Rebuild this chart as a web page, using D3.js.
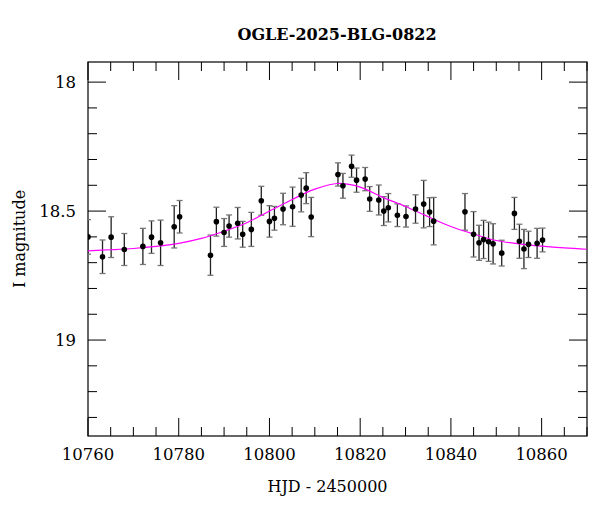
<!DOCTYPE html>
<html>
<head>
<meta charset="utf-8">
<script src="https://cdn.jsdelivr.net/npm/d3@7"></script>
<style>
  body { margin: 0; background: #fff; }
  text { font-family: "DejaVu Serif", serif; fill: #000; }
</style>
</head>
<body>
<script>
// photometry (HJD - 2450000, I mag, error)
const hjd = [10760.0, 10763.2, 10765.1, 10768.0, 10772.1, 10774.0, 10776.0, 10779.0, 10780.2, 10787.0,
  10788.3, 10790.0, 10791.1, 10793.0, 10794.1, 10796.0, 10798.2, 10800.0, 10801.1, 10803.0,
  10805.1, 10807.0, 10808.1, 10809.2, 10815.1, 10816.2, 10818.1, 10819.2, 10821.1, 10822.1,
  10824.1, 10825.2, 10826.2, 10828.2, 10830.1, 10832.2, 10834.0, 10835.3, 10836.2, 10843.1,
  10845.0, 10846.2, 10847.2, 10848.3, 10849.3, 10851.2, 10854.0, 10855.1, 10856.1, 10857.1,
  10859.0, 10860.2];
const mag = [18.600, 18.677, 18.601, 18.649, 18.637, 18.601, 18.623, 18.561, 18.522, 18.671,
  18.541, 18.583, 18.558, 18.547, 18.590, 18.571, 18.460, 18.540, 18.528, 18.492,
  18.483, 18.438, 18.411, 18.523, 18.358, 18.402, 18.326, 18.380, 18.376, 18.453,
  18.457, 18.500, 18.487, 18.516, 18.521, 18.492, 18.473, 18.504, 18.539, 18.503,
  18.590, 18.623, 18.610, 18.619, 18.627, 18.663, 18.509, 18.617, 18.647, 18.629,
  18.625, 18.612];
const err = [0.067, 0.065, 0.079, 0.062, 0.070, 0.063, 0.088, 0.082, 0.063, 0.078,
  0.056, 0.054, 0.043, 0.061, 0.050, 0.066, 0.056, 0.061, 0.046, 0.061,
  0.076, 0.065, 0.060, 0.076, 0.045, 0.048, 0.043, 0.047, 0.045, 0.048,
  0.058, 0.056, 0.055, 0.044, 0.041, 0.055, 0.092, 0.056, 0.092, 0.071,
  0.088, 0.068, 0.074, 0.076, 0.078, 0.050, 0.062, 0.066, 0.076, 0.051,
  0.058, 0.046];

// model curve
const modelT = [10760, 10765, 10770, 10775, 10780, 10785, 10790, 10795, 10800, 10805, 10810, 10815,
  10820, 10825, 10830, 10835, 10840, 10845, 10850, 10855, 10860, 10865, 10870];
const modelMag = [18.654, 18.650, 18.645, 18.637, 18.625, 18.606, 18.578, 18.545, 18.500, 18.455, 18.415, 18.393,
  18.407, 18.447, 18.482, 18.522, 18.560, 18.589, 18.614, 18.627, 18.636, 18.643, 18.648];

const xTicks = [10760, 10780, 10800, 10820, 10840, 10860];
const yTicks = [18, 18.5, 19];

const margin = { top: 62, right: 13, bottom: 76, left: 88 };
const W = 600, H = 512;
const width = W - margin.left - margin.right, height = H - margin.top - margin.bottom;

const x = d3.scaleLinear().domain([10760, 10870]).range([0, width]);
const y = d3.scaleLinear().domain([17.922, 19.372]).range([0, height]);

const svg = d3.select('body').append('svg').attr('width', W).attr('height', H);
const g = svg.append('g').attr('transform', `translate(${margin.left},${margin.top})`);

svg.append('defs').append('clipPath').attr('id', 'clip')
  .append('rect').attr('width', width).attr('height', height);

// ticks inward on all four sides
const xMinor = d3.range(10760, 10871, 5);
const yMinor = d3.range(0, 15).map(i => +(17.9 + i * 0.1).toFixed(1)).filter(v => v >= 17.922 && v <= 19.372);
const ticks = g.append('g').attr('stroke', '#000').attr('stroke-width', 1);
xMinor.forEach(v => {
  const len = (v % 20 === 0) ? 18 : 9;
  ticks.append('line').attr('x1', x(v)).attr('x2', x(v)).attr('y1', height).attr('y2', height - len);
  ticks.append('line').attr('x1', x(v)).attr('x2', x(v)).attr('y1', 0).attr('y2', len);
});
yMinor.forEach(v => {
  const len = (Math.abs(v * 2 - Math.round(v * 2)) < 1e-6) ? 18 : 9;
  ticks.append('line').attr('y1', y(v)).attr('y2', y(v)).attr('x1', 0).attr('x2', len);
  ticks.append('line').attr('y1', y(v)).attr('y2', y(v)).attr('x1', width).attr('x2', width - len);
});

g.append('rect').attr('width', width).attr('height', height)
  .attr('fill', 'none').attr('stroke', '#000').attr('stroke-width', 1.2);

g.selectAll('.xl').data(xTicks).enter().append('text')
  .attr('x', d => x(d)).attr('y', height + 24).attr('text-anchor', 'middle')
  .style('font-size', '16.5px').text(d => d);
g.selectAll('.yl').data(yTicks).enter().append('text')
  .attr('x', -12).attr('y', d => y(d) + 6).attr('text-anchor', 'end')
  .style('font-size', '16.5px').text(d => d);

svg.append('text').attr('x', margin.left + width / 2 - 10).attr('y', 492).attr('text-anchor', 'middle')
  .style('font-size', '16px').text('HJD - 2450000');
svg.append('text').attr('transform', `translate(25,${margin.top + height / 2 - 10}) rotate(-90)`)
  .attr('text-anchor', 'middle').style('font-size', '16px').text('I magnitude');
svg.append('text').attr('x', 337).attr('y', 40).attr('text-anchor', 'middle')
  .style('font-size', '16px').style('font-weight', '600').text('OGLE-2025-BLG-0822');

const plot = g.append('g').attr('clip-path', 'url(#clip)');

// error bars + points
const pts = hjd.map((t, i) => ({ t, m: mag[i], e: err[i] }));
const eb = plot.append('g').attr('stroke', '#222').attr('stroke-width', 1.3);
pts.forEach(d => {
  eb.append('line').attr('x1', x(d.t)).attr('x2', x(d.t)).attr('y1', y(d.m - d.e)).attr('y2', y(d.m + d.e));
  [d.m - d.e, d.m + d.e].forEach(v =>
    eb.append('line').attr('x1', x(d.t) - 3).attr('x2', x(d.t) + 3).attr('y1', y(v)).attr('y2', y(v)).attr('stroke', '#777'));
});

const line = d3.line().x(d => x(d[0])).y(d => y(d[1])).curve(d3.curveCatmullRom);
plot.append('path').datum(modelT.map((t, i) => [t, modelMag[i]]))
  .attr('d', line).attr('fill', 'none').attr('stroke', '#ff00ff').attr('stroke-width', 1.2);

plot.selectAll('circle').data(pts).enter().append('circle')
  .attr('cx', d => x(d.t)).attr('cy', d => y(d.m)).attr('r', 2.8).attr('fill', '#000');
</script>
</body>
</html>
